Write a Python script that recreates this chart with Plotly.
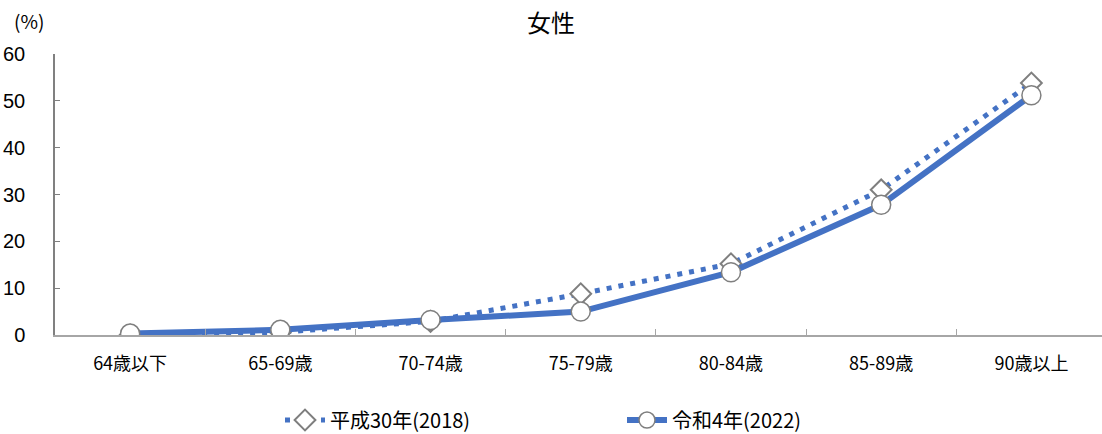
import plotly.graph_objects as go

categories = ["64歳以下", "65-69歳", "70-74歳", "75-79歳", "80-84歳", "85-89歳", "90歳以上"]
values_2018 = [0.0, 0.6, 2.9, 8.8, 15.2, 31.0, 53.8]
values_2022 = [0.3, 1.1, 3.2, 5.0, 13.4, 27.8, 51.2]
series_names = ["平成30年(2018)", "令和4年(2022)"]
y_ticks = [0, 10, 20, 30, 40, 50, 60]

blue = "#4472C4"
gray = "#7F7F7F"
font_jp = "Noto Sans CJK JP"

fig = go.Figure()
fig.add_trace(go.Scatter(
    x=categories, y=values_2018, name=series_names[0], mode="lines+markers",
    line=dict(color=blue, width=5, dash="5px,7px"),
    marker=dict(symbol="diamond", size=16, color="white", line=dict(color=gray, width=2)),
))
fig.add_trace(go.Scatter(
    x=categories, y=values_2022, name=series_names[1], mode="lines+markers",
    line=dict(color=blue, width=6),
    marker=dict(symbol="circle", size=19, color="white", line=dict(color=gray, width=1.5)),
))

fig.update_layout(
    width=1102, height=434,
    margin=dict(l=55, r=0, t=54, b=99, autoexpand=False),
    paper_bgcolor="white", plot_bgcolor="white",
    font=dict(family=font_jp, color="black"),
    title=dict(text="女性", x=0.5, xanchor="center", y=0.945, yanchor="middle",
               font=dict(size=24, family=font_jp, color="black")),
    showlegend=True,
    legend=dict(orientation="h", x=0.2149, xanchor="left", y=-0.3025, yanchor="middle",
                font=dict(size=20, family=font_jp), itemwidth=40, entrywidth=287),
    xaxis=dict(type="category", range=[-0.5, 6.47], showline=True, linecolor="#A6A6A6",
               linewidth=1.5, ticks="inside", ticklen=6, tickcolor="#A6A6A6",
               tickson="boundaries", showgrid=False, zeroline=False,
               ticklabelstandoff=12,
               tickfont=dict(size=18, family=font_jp)),
    yaxis=dict(range=[0, 60], tickvals=y_ticks, showline=True, linecolor="#808080",
               linewidth=1.5, ticks="inside", ticklen=5, tickcolor="#808080",
               showgrid=False, zeroline=False, ticklabelstandoff=24,
               tickfont=dict(size=20, family="Liberation Sans")),
)
fig.add_annotation(text="(%)", xref="paper", yref="paper", x=-0.041, y=1.12,
                   xanchor="left", yanchor="middle", showarrow=False,
                   font=dict(size=19, family=font_jp))

fig.write_html("out.html")
